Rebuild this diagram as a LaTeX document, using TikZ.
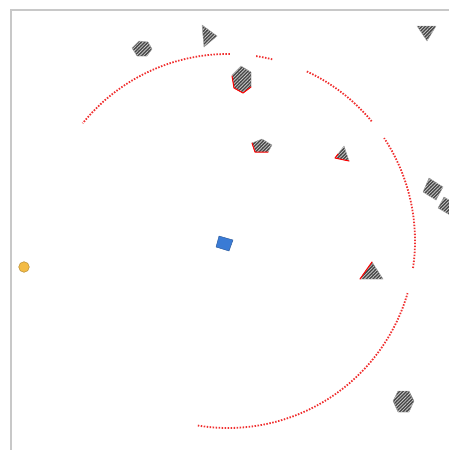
\documentclass[tikz,border=0pt]{standalone}
\usetikzlibrary{patterns.meta}
\definecolor{hatchdark}{HTML}{454545}
\definecolor{hatchlight}{HTML}{C8C8C8}
\definecolor{robotblue}{HTML}{3A7BD5}
\definecolor{goalyellow}{HTML}{F3BB45}
\definecolor{axisgray}{HTML}{C8C8C8}
\definecolor{arcred}{HTML}{F03030}
\tikzset{
  obstacle/.style={fill=hatchdark, draw=gray!70, line width=0.4pt},
  hatch/.style={pattern={Lines[angle=45,distance=2.4pt,line width=0.8pt]}, pattern color=hatchlight},
  seen/.style={draw=red, line width=1pt, line cap=round, line join=round},
  sensorarc/.style={draw=arcred, line width=1.8pt, dash pattern=on 1.5pt off 1.5pt},
  frameline/.style={draw=axisgray, line width=1.5pt}
}
\newcommand{\obst}[1]{\fill[obstacle] #1 -- cycle; \fill[hatch] #1 -- cycle;}
\begin{document}
\begin{tikzpicture}[x=1pt,y=-1pt]
\useasboundingbox (0,0) rectangle (449,450);
\begin{scope}
\clip (0,0) rectangle (449,450);
% frame
\draw[frameline] (11,450) -- (11,10) -- (449,10);
% sensor arcs around the robot
\draw[sensorarc] plot[domain=89.4:141, samples=80] ({228+187*cos(\x)},{241-187*sin(\x)});
\draw[sensorarc] plot[domain=76.3:81.7, samples=12] ({228+187*cos(\x)},{241-187*sin(\x)});
\draw[sensorarc] plot[domain=39.8:65.5, samples=40] ({228+187*cos(\x)},{241-187*sin(\x)});
\draw[sensorarc] plot[domain=-8.3:33.4, samples=60] ({228+187*cos(\x)},{241-187*sin(\x)});
\draw[sensorarc] plot[domain=-99.3:-16.2, samples=100] ({228+187*cos(\x)},{241-187*sin(\x)});
% obstacles
\obst{(132,48) -- (139,41) -- (148,42) -- (152,49) -- (147,56) -- (137,56)}
\obst{(202,25) -- (217,36) -- (204,47)}
\obst{(241,66) -- (251,72) -- (251,87) -- (243,93) -- (234,88) -- (232,75)}
\draw[seen] (232,76) -- (234,88) -- (243,93) -- (251,87);
\obst{(262,139) -- (272,145) -- (268,152) -- (255,152) -- (252,143)}
\draw[seen] (252,143) -- (255,152) -- (268,152);
\obst{(344,146) -- (349,161) -- (335,158)}
\draw[seen] (338,154) -- (335,158) -- (349,161);
\obst{(429,178) -- (443,187) -- (436,200) -- (423,192)}
\obst{(444,197) -- (456,204) -- (450,215) -- (438,208)}
\obst{(372,262) -- (383,279) -- (360,279)}
\draw[seen] (372,262) -- (360,279);
\obst{(393,401) -- (398,391) -- (409,391) -- (414,401) -- (409,412) -- (398,412)}
\obst{(417,26) -- (436,26) -- (427,41)}
% robot
\filldraw[fill=robotblue, draw=robotblue!70!black, line width=0.4pt] (219,236) -- (233,240) -- (229,251) -- (216,247) -- cycle;
% goal
\filldraw[fill=goalyellow, draw=goalyellow!75!black, line width=0.5pt] (24,267) circle (5.3);
\end{scope}
\end{tikzpicture}
\end{document}
